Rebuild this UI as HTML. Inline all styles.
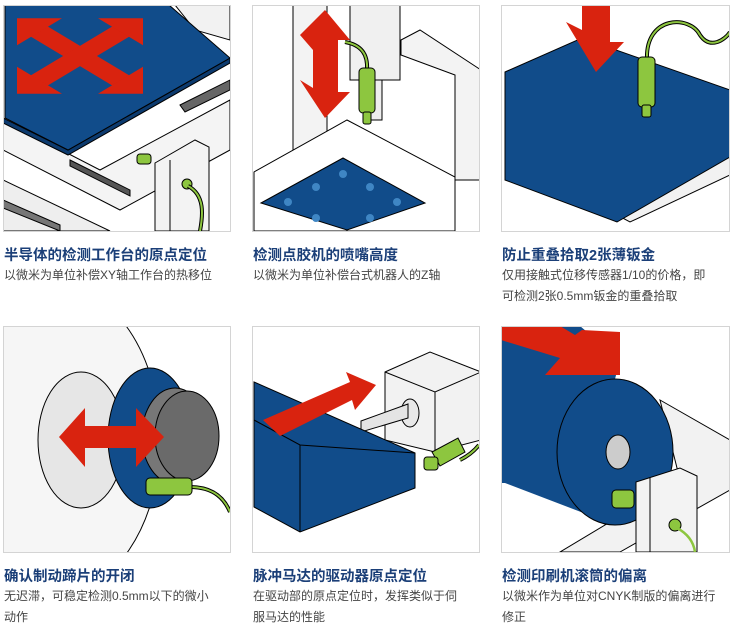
<!DOCTYPE html>
<html><head><meta charset="utf-8"><style>
body{margin:0;background:#fff;width:732px;height:641px;position:relative;overflow:hidden;font-family:"Liberation Sans","Noto Sans CJK SC",sans-serif}
svg{position:absolute;left:0;top:0}
.t{position:absolute;font-size:14.5px;font-weight:bold;color:#1b3f78;white-space:nowrap}
.d{position:absolute;font-size:12px;color:#444;line-height:21px;width:222px}
</style></head><body>
<svg width="732" height="641" viewBox="0 0 732 641">
<defs>
<clipPath id="c1"><rect x="3" y="5" width="227" height="226"/></clipPath>
<clipPath id="c2"><rect x="252" y="5" width="227" height="226"/></clipPath>
<clipPath id="c3"><rect x="501" y="5" width="228" height="226"/></clipPath>
<clipPath id="c4"><rect x="3" y="326" width="227" height="226"/></clipPath>
<clipPath id="c5"><rect x="252" y="326" width="227" height="226"/></clipPath>
<clipPath id="c6"><rect x="501" y="326" width="228" height="226"/></clipPath>
</defs>
<g stroke="#000" stroke-width="1">
<!-- Panel 1 -->
<g clip-path="url(#c1)">
<rect x="3" y="5" width="227" height="226" fill="#fff" stroke="none"/>
<polygon points="175,5 230,5 230,40 195,30" fill="#f2f2f2"/>
<polygon points="3,150 120,210 230,150 230,100 100,170 3,120" fill="#f4f4f4"/>
<polygon points="3,180 110,231 3,231" fill="#eee"/>
<polygon points="70,160 130,190 130,196 70,166" fill="#555"/>
<polygon points="3,200 60,225 60,231 3,208" fill="#777"/>
<polygon points="180,105 230,80 230,90 185,112" fill="#666"/>
<polygon points="3,123 68,155 230,63 230,58 68,150 3,118" fill="#0c3a6e"/>
<polygon points="5,5 169,5 230,58 68,150 5,118" fill="#114c8a"/>
<g transform="translate(80,56) scale(1,0.6)" fill="#d9230f" stroke="none">
<line x1="-48" y1="-48" x2="48" y2="48" stroke="#d9230f" stroke-width="24"/>
<line x1="48" y1="-48" x2="-48" y2="48" stroke="#d9230f" stroke-width="24"/>
<polygon points="-63,-63 -63,-18 -18,-63"/>
<polygon points="63,-63 63,-18 18,-63"/>
<polygon points="-63,63 -63,18 -18,63"/>
<polygon points="63,63 63,18 18,63"/>
</g>
<polygon points="155,163 195,140 209,147 209,231 155,231" fill="#f3f3f3"/>
<line x1="170" y1="160" x2="170" y2="231"/>
<rect x="137" y="154" width="14" height="10" rx="3" fill="#8dc63f"/>
<circle cx="187" cy="184" r="5" fill="#8dc63f"/>
<path d="M188,186 C205,195 203,215 200,231" fill="none" stroke="#000" stroke-width="4"/>
<path d="M188,186 C205,195 203,215 200,231" fill="none" stroke="#8dc63f" stroke-width="2"/>
</g>
<!-- Panel 2 -->
<g clip-path="url(#c2)">
<rect x="252" y="5" width="227" height="226" fill="#fff" stroke="none"/>
<rect x="293" y="5" width="34" height="145" fill="#f3f3f3"/>
<rect x="350" y="5" width="50" height="75" fill="#f0f0f0"/>
<rect x="370" y="80" width="12" height="40" fill="#eee"/>
<polygon points="401,40 420,30 481,70 481,180 455,180 455,75 401,55" fill="#f3f3f3"/>
<polygon points="254,172 347,120 455,177 455,231 254,231" fill="#fff"/>
<polygon points="261,203 343,158 425,203 347,230" fill="#114c8a"/>
<g fill="#3f86c4" stroke="none">
<circle cx="343" cy="174" r="4"/><circle cx="316" cy="187" r="4"/><circle cx="370" cy="187" r="4"/>
<circle cx="288" cy="202" r="4"/><circle cx="397" cy="202" r="4"/><circle cx="316" cy="218" r="4"/><circle cx="370" cy="218" r="4"/></g>
<polygon points="325,10 350,40 338,40 338,92 350,92 325,118 300,80 313,88 313,50 300,35" fill="#d9230f" stroke="none"/>
<path d="M345,42 C362,45 368,55 367,70" fill="none" stroke="#000" stroke-width="4"/>
<path d="M345,42 C362,45 368,55 367,70" fill="none" stroke="#8dc63f" stroke-width="2"/>
<rect x="359" y="68" width="16" height="45" rx="4" fill="#8dc63f"/>
<rect x="363" y="112" width="8" height="12" rx="2" fill="#8dc63f"/>
</g>
<!-- Panel 3 -->
<g clip-path="url(#c3)">
<rect x="501" y="5" width="228" height="226" fill="#fff" stroke="none"/>
<polygon points="600,45 730,105 730,175 630,222 617,215" fill="#f2f2f2"/>
<polygon points="505,72 582,38 730,90 730,157 617,222 505,180" fill="#114c8a"/>
<polygon points="582,5 610,5 610,42 624,42 596,72 566,22 582,30" fill="#d9230f" stroke="none"/>
<path d="M647,60 C645,15 690,15 700,35 C710,50 725,40 730,32" fill="none" stroke="#000" stroke-width="4"/>
<path d="M647,60 C645,15 690,15 700,35 C710,50 725,40 730,32" fill="none" stroke="#8dc63f" stroke-width="2"/>
<rect x="638" y="57" width="17" height="50" rx="4" fill="#8dc63f"/>
<rect x="642" y="105" width="9" height="12" rx="2" fill="#8dc63f"/>
</g>
<!-- Panel 4 -->
<g clip-path="url(#c4)">
<rect x="3" y="326" width="227" height="226" fill="#fff" stroke="none"/>
<ellipse cx="55" cy="440" rx="105" ry="155" fill="#f6f6f6"/>
<ellipse cx="81" cy="440" rx="43" ry="68" fill="#e6e6e6"/>
<ellipse cx="150" cy="438" rx="42" ry="70" fill="#114c8a"/>
<ellipse cx="175" cy="436" rx="33" ry="48" fill="#777"/>
<ellipse cx="187" cy="436" rx="32" ry="45" fill="#6a6a6a"/>
<polygon points="59,437 85,408 85,426 136,426 136,408 164,437 136,467 136,448 85,448 85,467" fill="#d9230f" stroke="none"/>
<path d="M190,487 C215,487 225,500 230,512" fill="none" stroke="#000" stroke-width="4"/>
<path d="M190,487 C215,487 225,500 230,512" fill="none" stroke="#8dc63f" stroke-width="2"/>
<rect x="146" y="478" width="46" height="17" rx="4" fill="#8dc63f"/>
</g>
<!-- Panel 5 -->
<g clip-path="url(#c5)">
<rect x="252" y="326" width="227" height="226" fill="#fff" stroke="none"/>
<polygon points="385,372 430,352 481,372 481,440 435,452 385,440" fill="#f2f2f2"/>
<polyline points="385,372 435,392 481,372" fill="none"/><line x1="435" y1="392" x2="435" y2="452"/>
<ellipse cx="410" cy="413" rx="9" ry="14" fill="#e8e8e8"/>
<polygon points="361,421 408,404 408,418 361,432" fill="#e4e4e4"/>
<polygon points="254,382 415,453 415,488 300,532 254,507" fill="#114c8a"/>
<polyline points="254,420 300,445 415,453" fill="none"/><line x1="300" y1="445" x2="300" y2="532"/>
<polygon points="263,420 350,382 346,372 376,385 355,410 352,400 280,436" fill="#d9230f" stroke="none"/>
<path d="M460,460 C470,455 475,450 479,445" fill="none" stroke="#000" stroke-width="4"/>
<path d="M460,460 C470,455 475,450 479,445" fill="none" stroke="#8dc63f" stroke-width="2"/>
<polygon points="432,452 458,438 465,452 440,466" fill="#8dc63f"/>
<rect x="424" y="457" width="14" height="13" rx="3" fill="#8dc63f"/>
</g>
<!-- Panel 6 -->
<g clip-path="url(#c6)">
<rect x="501" y="326" width="228" height="226" fill="#fff" stroke="none"/>
<polygon points="660,400 730,440 730,490 620,552 560,552 680,480" fill="#f2f2f2"/>
<polygon points="501,326 580,326 620,360 615,379 615,525 505,483 501,483" fill="#114c8a" stroke="none"/>
<ellipse cx="615" cy="452" rx="58" ry="73" fill="#114c8a"/>
<ellipse cx="618" cy="452" rx="12" ry="17" fill="#ccc"/>
<polygon points="501,326 560,326 575,335 582,330 620,332 620,375 545,375 560,358 501,340" fill="#d9230f" stroke="none"/>
<polygon points="636,482 680,468 697,476 697,552 636,552" fill="#f3f3f3"/>
<line x1="650" y1="478" x2="650" y2="552"/>
<rect x="612" y="490" width="22" height="18" rx="4" fill="#8dc63f"/>
<circle cx="675" cy="525" r="6" fill="#8dc63f"/>
<path d="M677,528 C690,535 694,545 695,552" fill="none" stroke="#8dc63f" stroke-width="2.5"/>
</g>
</g>
<g fill="none" stroke="#d4d4d4">
<rect x="3.5" y="5.5" width="227" height="226"/><rect x="252.5" y="5.5" width="227" height="226"/><rect x="501.5" y="5.5" width="228" height="226"/>
<rect x="3.5" y="326.5" width="227" height="226"/><rect x="252.5" y="326.5" width="227" height="226"/><rect x="501.5" y="326.5" width="228" height="226"/>
</g>
</svg>
<div class="t" style="left:4px;top:244px">半导体的检测工作台的原点定位</div>
<div class="d" style="left:4px;top:265px">以微米为单位补偿XY轴工作台的热移位</div>
<div class="t" style="left:253px;top:244px">检测点胶机的喷嘴高度</div>
<div class="d" style="left:253px;top:265px">以微米为单位补偿台式机器人的Z轴</div>
<div class="t" style="left:502px;top:244px">防止重叠拾取2张薄钣金</div>
<div class="d" style="left:502px;top:265px">仅用接触式位移传感器1/10的价格，即<br>可检测2张0.5mm钣金的重叠拾取</div>
<div class="t" style="left:4px;top:565px">确认制动蹄片的开闭</div>
<div class="d" style="left:4px;top:586px">无迟滞，可稳定检测0.5mm以下的微小<br>动作</div>
<div class="t" style="left:253px;top:565px">脉冲马达的驱动器原点定位</div>
<div class="d" style="left:253px;top:586px">在驱动部的原点定位时，发挥类似于伺<br>服马达的性能</div>
<div class="t" style="left:502px;top:565px">检测印刷机滚筒的偏离</div>
<div class="d" style="left:502px;top:586px">以微米作为单位对CNYK制版的偏离进行<br>修正</div>
</body></html>
